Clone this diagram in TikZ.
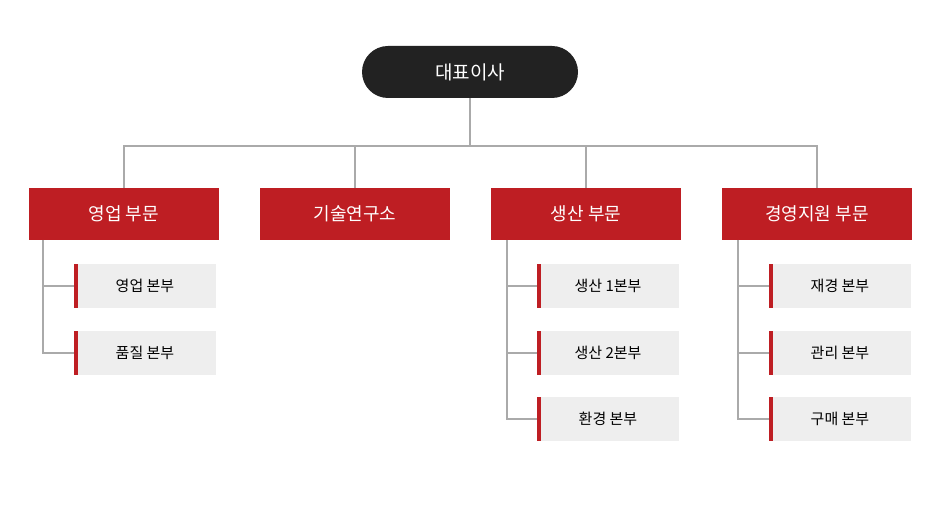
\documentclass[tikz,border=0pt]{standalone}
\usepackage{fontspec}
\setmainfont{Noto Sans CJK KR}
\definecolor{ceored}{HTML}{BE1E23}
\definecolor{ceodark}{HTML}{222222}
\definecolor{subgray}{HTML}{EEEEEE}
\definecolor{linegray}{HTML}{AAAAAA}
\tikzset{
  ceo/.style={fill=ceodark,rounded corners=26pt,minimum width=216pt,minimum height=52pt,text=white,font=\fontsize{19}{19}\selectfont,inner sep=0pt},
  dept/.style={fill=ceored,minimum width=190pt,minimum height=52pt,text=white,font=\fontsize{18}{18}\selectfont,inner sep=0pt},
  sub/.style={fill=subgray,minimum width=142pt,minimum height=44pt,font=\fontsize{15}{15}\selectfont,inner sep=0pt,
    path picture={\fill[ceored] (path picture bounding box.south west) rectangle ([xshift=4pt]path picture bounding box.north west);}},
  conn/.style={draw=linegray,line width=1.3pt}
}
\begin{document}
\begin{tikzpicture}[x=1pt,y=-1pt]
\useasboundingbox[fill=white] (0,0) rectangle (940,526);
\node[ceo] (ceo) at (470,72) {대표이사};
\node[dept] (d1) at (124,214) {영업 부문};
\node[dept] (d2) at (355,214) {기술연구소};
\node[dept] (d3) at (586,214) {생산 부문};
\node[dept] (d4) at (817,214) {경영지원 부문};
\coordinate (hub) at (470,146);
\draw[conn] (ceo.south) -- (hub);
\draw[conn] (d1.north) |- (hub) -| (d4.north);
\draw[conn] (d2.north) -- (d2.north |- hub);
\draw[conn] (d3.north) -- (d3.north |- hub);
% column 1
\node[sub] (s11) at (145,286) {영업 본부};
\node[sub] (s12) at (145,353) {품질 본부};
\coordinate (t1) at (43,240);
\draw[conn] (t1) |- (s12.west);
\draw[conn] (s11.west) -- (s11.west -| t1);
% column 3
\node[sub] (s31) at (608,286) {생산 1본부};
\node[sub] (s32) at (608,353) {생산 2본부};
\node[sub] (s33) at (608,419) {환경 본부};
\coordinate (t3) at (507,240);
\draw[conn] (t3) |- (s33.west);
\draw[conn] (s31.west) -- (s31.west -| t3);
\draw[conn] (s32.west) -- (s32.west -| t3);
% column 4
\node[sub] (s41) at (840,286) {재경 본부};
\node[sub] (s42) at (840,353) {관리 본부};
\node[sub] (s43) at (840,419) {구매 본부};
\coordinate (t4) at (738,240);
\draw[conn] (t4) |- (s43.west);
\draw[conn] (s41.west) -- (s41.west -| t4);
\draw[conn] (s42.west) -- (s42.west -| t4);
\end{tikzpicture}
\end{document}
